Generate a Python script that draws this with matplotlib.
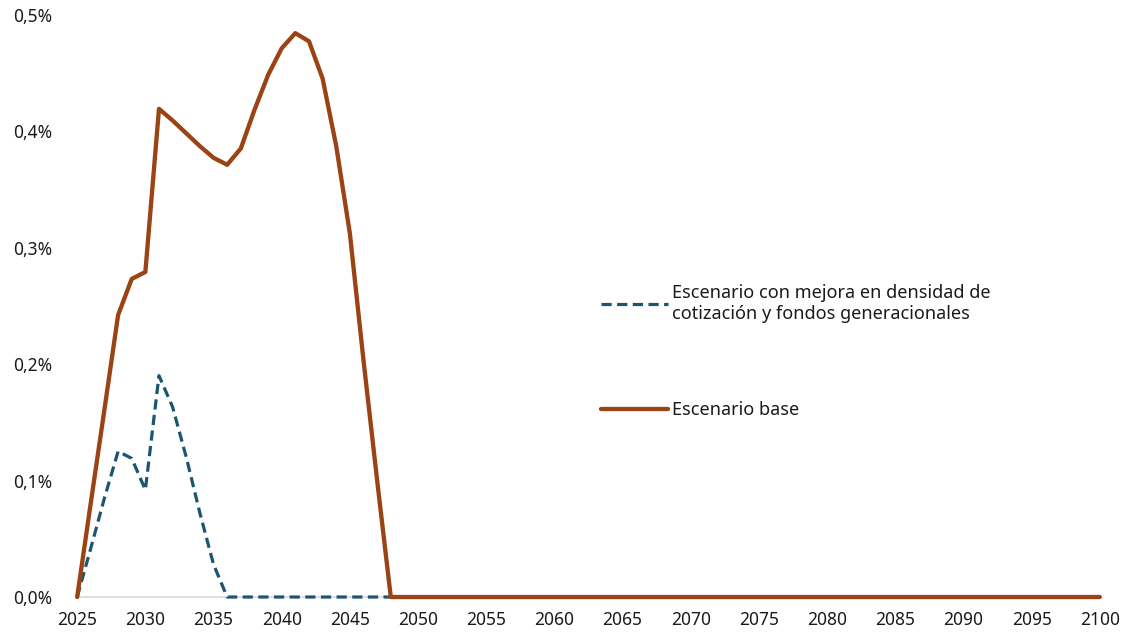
import numpy as np
import matplotlib
matplotlib.use("Agg")
import matplotlib.pyplot as plt
from matplotlib.ticker import FuncFormatter

plt.rcParams['font.family'] = ['Noto Sans', 'DejaVu Sans']

#%% DATA (percent of GDP)
years = np.arange(2025, 2101)

base_early = [0.0, 0.081, 0.161, 0.242, 0.273, 0.279, 0.419, 0.409, 0.398,
              0.387, 0.377, 0.371, 0.385, 0.418, 0.448, 0.471, 0.484, 0.477,
              0.445, 0.387, 0.312, 0.203, 0.100, 0.0]   # 2025-2048
mejora_early = [0.0, 0.042, 0.085, 0.125, 0.119, 0.092, 0.190, 0.163, 0.120,
                0.072, 0.028, 0.0]                       # 2025-2036

base = np.array(base_early + [0.0] * (len(years) - len(base_early)))
mejora = np.array(mejora_early + [0.0] * (len(years) - len(mejora_early)))

labelMejora = "Escenario con mejora en densidad de\ncotización y fondos generacionales"
labelBase = "Escenario base"
xticks = np.arange(2025, 2101, 5)
yticks = [0.0, 0.1, 0.2, 0.3, 0.4, 0.5]

#%% PLOT
fig = plt.figure(figsize=(11.35, 6.36), dpi=100)
ax = fig.add_axes([0.068, 0.0613, 0.901, 0.9159])

ax.plot(years, mejora, color="#1b5670", lw=2.3, dashes=(3.2, 1.7),
        label=labelMejora, clip_on=False, zorder=3)
ax.plot(years, base, color="#9a4314", lw=3.1, label=labelBase,
        clip_on=False, zorder=4, solid_capstyle="round")

ax.set_xlim(2025, 2100)
ax.set_ylim(0, 0.5)
ax.set_xticks(xticks)
ax.set_yticks(yticks)
ax.yaxis.set_major_formatter(FuncFormatter(lambda v, p: "{:.1f}%".format(v).replace(".", ",")))
ax.tick_params(axis="both", length=0, labelsize=12.5, colors="#1a1a1a")
ax.tick_params(axis="y", pad=18)
ax.tick_params(axis="x", pad=10)

for s in ["top", "right", "left"]:
    ax.spines[s].set_visible(False)
ax.spines["bottom"].set_color("#d9d9d9")
ax.spines["bottom"].set_linewidth(1.2)

leg = ax.legend(loc="upper left", bbox_to_anchor=(0.515, 0.579),
                bbox_transform=fig.transFigure, frameon=False, fontsize=13,
                handlelength=3.7, handletextpad=0.25, labelspacing=4.35)
for t in leg.get_texts():
    t.set_color("#1a1a1a")

plt.savefig("out.png", dpi=100)
